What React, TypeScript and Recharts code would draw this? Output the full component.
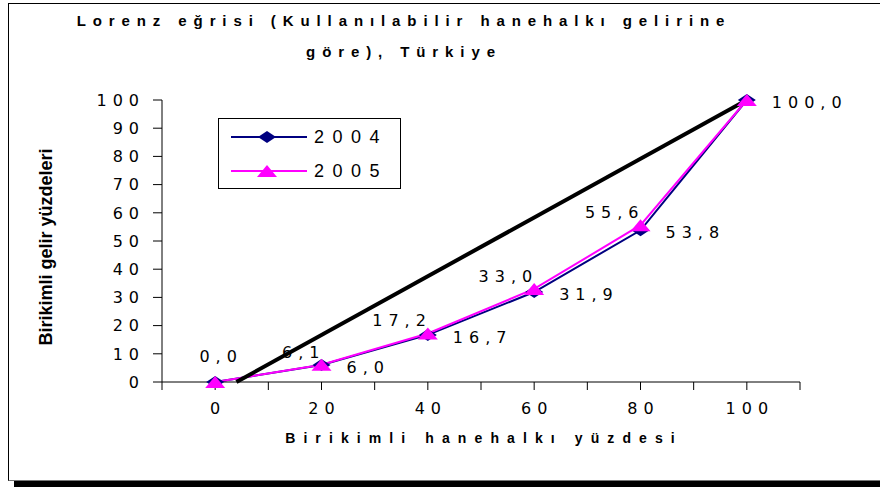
import { LineChart, Line, XAxis, YAxis, ReferenceLine, LabelList } from "recharts";

// Lorenz eğrisi verileri (birikimli %)
const households = [0, 20, 40, 60, 80, 100];
const income2004 = [0, 6.0, 16.7, 31.9, 53.8, 100.0];
const income2005 = [0, 6.1, 17.2, 33.0, 55.6, 100.0];
const equalityLine = [
  { x: 4, y: 0 },
  { x: 100, y: 100 },
];
const xTicks = [-10, 0, 10, 20, 30, 40, 50, 60, 70, 80, 90, 100, 110];
const xTickLabels = [0, 20, 40, 60, 80, 100];
const yTicks = [0, 10, 20, 30, 40, 50, 60, 70, 80, 90, 100];

const data = households.map((h, i) => ({ x: h, y2004: income2004[i], y2005: income2005[i] }));

const NAVY = "#000080";
const MAGENTA = "#FF00FF";
const numFont = "'DejaVu Sans', sans-serif";
const arial = "'Liberation Sans', Arial, sans-serif";

const fmt = (v: number) => v.toFixed(1).replace(".", ",");

function Diamond({ cx, cy }: any) {
  if (cx == null || cy == null) return null;
  return <path d={`M${cx - 9},${cy} L${cx},${cy - 6} L${cx + 9},${cy} L${cx},${cy + 6} Z`} fill={NAVY} />;
}

function Triangle({ cx, cy }: any) {
  if (cx == null || cy == null) return null;
  return <path d={`M${cx - 10},${cy + 6} L${cx},${cy - 6} L${cx + 10},${cy + 6} Z`} fill={MAGENTA} />;
}

const pos = (p: any) => ({ x: p.x ?? p.viewBox?.x, y: p.y ?? p.viewBox?.y });

function Label2004(p: any) {
  const { x, y } = pos(p);
  if (p.index === 0 || x == null) return null;
  return (
    <text x={x + 25} y={y + 8} fontSize={16} fontFamily={numFont} letterSpacing={6} fill="#000">
      {fmt(Number(p.value))}
    </text>
  );
}

function Label2005(p: any) {
  const { x, y } = pos(p);
  if (p.index === 5 || x == null) return null;
  if (p.index === 0) {
    return (
      <text x={x + 6} y={y - 20} textAnchor="middle" fontSize={16} fontFamily={numFont} letterSpacing={6} fill="#000">
        {fmt(Number(p.value))}
      </text>
    );
  }
  return (
    <text x={x + 4} y={y - 7} textAnchor="end" fontSize={16} fontFamily={numFont} letterSpacing={6} fill="#000">
      {fmt(Number(p.value))}
    </text>
  );
}

function XTick({ x, y, payload }: any) {
  if (!xTickLabels.includes(payload.value)) return null;
  return (
    <text x={x + 3} y={y} dy="0.71em" textAnchor="middle" fontSize={16} fontFamily={numFont} letterSpacing={6} fill="#000">
      {payload.value}
    </text>
  );
}

function YTick({ x, y, payload }: any) {
  return (
    <text x={x + 6} y={y} dy="0.36em" textAnchor="end" fontSize={16} fontFamily={numFont} letterSpacing={6} fill="#000">
      {payload.value}
    </text>
  );
}

function LegendBox() {
  const row = (color: string, label: string, marker: "d" | "t") => (
    <div style={{ display: "flex", alignItems: "center", height: 34 }}>
      <svg width={90} height={14} style={{ marginLeft: 12 }}>
        <line x1={0} y1={7} x2={76} y2={7} stroke={color} strokeWidth={2} />
        {marker === "d" ? <Diamond cx={36} cy={7} /> : <Triangle cx={36} cy={7} />}
      </svg>
      <span style={{ fontFamily: arial, fontSize: 18, letterSpacing: 8.5, color: "#000", marginLeft: -7 }}>{label}</span>
    </div>
  );
  return (
    <div
      style={{
        position: "absolute",
        left: 218,
        top: 118,
        width: 181,
        height: 68,
        border: "1px solid #000",
        background: "#fff",
        paddingTop: 1,
      }}
    >
      {row(NAVY, "2004", "d")}
      {row(MAGENTA, "2005", "t")}
    </div>
  );
}

export default function App() {
  return (
    <div style={{ position: "absolute", left: 0, top: 0, width: 880, height: 487, background: "#fff", overflow: "hidden" }}>
      <div
        style={{
          position: "absolute",
          left: 8,
          top: 3,
          width: 920,
          height: 476,
          border: "1.5px solid #000",
          borderBottomColor: "#777",
          boxShadow: "6px 6px 0 #000",
        }}
      />
      <div
        style={{
          position: "absolute",
          left: 0,
          top: 5,
          width: 808,
          textAlign: "center",
          fontFamily: arial,
          fontWeight: "bold",
          fontSize: 15,
          letterSpacing: 6.9,
          lineHeight: "31px",
          color: "#000",
        }}
      >
        Lorenz eğrisi (Kullanılabilir hanehalkı gelirine
        <br />
        göre), Türkiye
      </div>
      <div
        style={{
          position: "absolute",
          left: 46,
          top: 247,
          transform: "translate(-50%, -50%) rotate(-90deg)",
          whiteSpace: "nowrap",
          fontFamily: arial,
          fontWeight: "bold",
          fontSize: 18,
          color: "#000",
        }}
      >
        Birikimli gelir yüzdeleri
      </div>
      <div
        style={{
          position: "absolute",
          left: 484,
          top: 438,
          transform: "translate(-50%, -50%)",
          whiteSpace: "nowrap",
          fontFamily: arial,
          fontWeight: "bold",
          fontSize: 14,
          letterSpacing: 8.1,
          color: "#000",
        }}
      >
        Birikimli hanehalkı yüzdesi
      </div>
      <div style={{ position: "absolute", left: 0, top: 0 }}>
        <LineChart width={880} height={487} data={data} margin={{ top: 100, right: 80, bottom: 65, left: 0 }}>
          <XAxis
            type="number"
            dataKey="x"
            domain={[-10, 110]}
            ticks={xTicks}
            interval={0}
            tick={<XTick />}
            tickSize={8}
            tickMargin={13}
            height={40}
            stroke="#000"
            allowDataOverflow
          />
          <YAxis
            type="number"
            domain={[0, 100]}
            ticks={yTicks}
            interval={0}
            tick={<YTick />}
            tickSize={9}
            tickMargin={14}
            width={162}
            stroke="#000"
          />
          <Line
            type="linear"
            dataKey="y2004"
            name="2004"
            stroke={NAVY}
            strokeWidth={2}
            dot={<Diamond />}
            activeDot={false}
            isAnimationActive={false}
          >
            <LabelList dataKey="y2004" content={<Label2004 />} />
          </Line>
          <Line
            type="linear"
            dataKey="y2005"
            name="2005"
            stroke={MAGENTA}
            strokeWidth={2}
            dot={<Triangle />}
            activeDot={false}
            isAnimationActive={false}
          >
            <LabelList dataKey="y2005" content={<Label2005 />} />
          </Line>
          <ReferenceLine segment={equalityLine} stroke="#000" strokeWidth={4} ifOverflow="visible" />
        </LineChart>
      </div>
      <LegendBox />
    </div>
  );
}
